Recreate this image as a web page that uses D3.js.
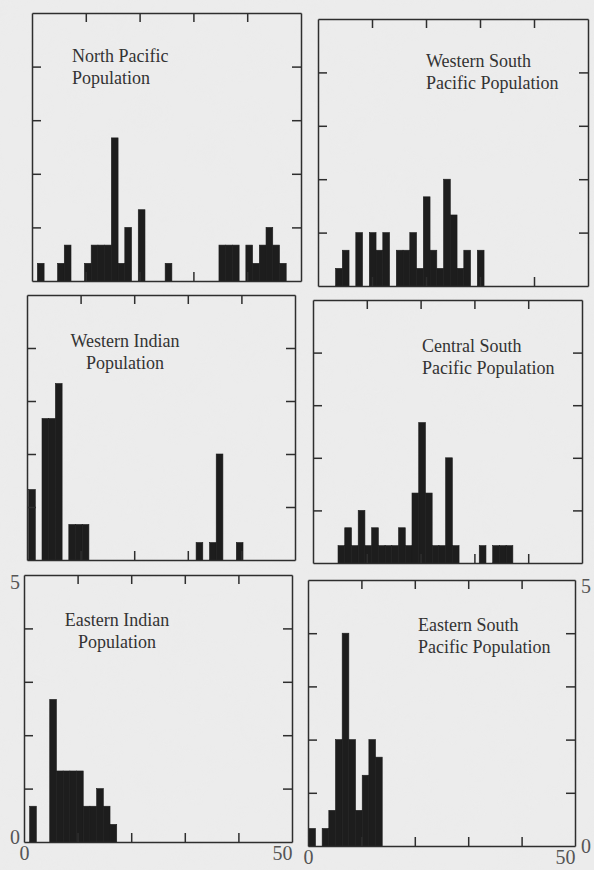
<!DOCTYPE html>
<html>
<head>
<meta charset="utf-8">
<script src="https://cdn.jsdelivr.net/npm/d3@7"></script>
<style>
  body { margin: 0; background: #ebebeb; }
  svg { display: block; }
</style>
</head>
<body>
<div id="chart"></div>
<script>
// bar heights, one value per bin (bins are 1.25 wide)
var binWidth = 1.25;
var northPacific = [0.33, 0, 0, 0.33, 0.67, 0, 0, 0.33, 0.67, 0.67, 0.67, 2.67, 0.33, 1, 0, 1.33, 0, 0, 0, 0.33,
    0, 0, 0, 0, 0, 0, 0, 0.67, 0.67, 0.67, 0, 0.67, 0.33, 0.67, 1, 0.67, 0.33];
var westernSouthPacific = [0, 0, 0.33, 0.67, 0, 1, 0, 1, 0.67, 1, 0, 0.67, 0.67, 1, 0.33, 1.67, 0.67, 0.33, 2, 1.33,
    0.33, 0.67, 0, 0.67];
var westernIndian = [1.33, 0, 2.67, 2.67, 3.33, 0, 0.67, 0.67, 0.67, 0, 0, 0, 0, 0, 0, 0, 0, 0, 0, 0,
    0, 0, 0, 0, 0, 0.33, 0, 0.33, 2, 0, 0, 0.33];
var centralSouthPacific = [0, 0, 0, 0.33, 0.67, 0.33, 1, 0.33, 0.67, 0.33, 0.33, 0.33, 0.67, 0.33, 1.33, 2.67, 1.33, 0.33, 0.33, 2,
    0.33, 0, 0, 0, 0.33, 0, 0.33, 0.33, 0.33];
var easternIndian = [0.67, 0, 0, 2.67, 1.33, 1.33, 1.33, 1.33, 0.67, 0.67, 1, 0.67, 0.33];
var easternSouthPacific = [0.33, 0, 0.33, 0.67, 2, 4, 2, 0.67, 1.33, 2, 1.67];

var xTicks = [10, 20, 30, 40];
var yTicks = [1, 2, 3, 4];
var xLabels = [0, 50];
var yLabels = [0, 5];

// frame of each panel on the page (the scan is a little skewed, so they differ)
var panels = [
    { values: northPacific, start: 1.0, title: ["North Pacific", "Population"], x: 32, y: 13, w: 269, h: 268, tx: 40, ty: 49, anchor: "start" },
    { values: westernSouthPacific, start: 0.75, title: ["Western South", "Pacific Population"], x: 318, y: 19, w: 270, h: 267, tx: 108, ty: 48, anchor: "start" },
    { values: westernIndian, start: 0.3, title: ["Western Indian", "Population"], x: 27, y: 295, w: 268, h: 265, tx: 98, ty: 52, anchor: "middle" },
    { values: centralSouthPacific, start: 0.9, title: ["Central South", "Pacific Population"], x: 313, y: 300, w: 269, h: 263, tx: 109, ty: 52, anchor: "start" },
    { values: easternIndian, start: 1.05, title: ["Eastern Indian", "Population"], x: 24, y: 575, w: 268, h: 267, tx: 93, ty: 51, anchor: "middle", left: true, bottom: true },
    { values: easternSouthPacific, start: 0.15, title: ["Eastern South", "Pacific Population"], x: 308, y: 580, w: 267, h: 266, tx: 110, ty: 51, anchor: "start", right: true, bottom: true }
];

var svg = d3.select("#chart")
    .append("svg")
    .attr("width", 594)
    .attr("height", 870);

// scanned paper look
var filter = svg.append("defs").append("filter").attr("id", "paper")
    .attr("x", 0).attr("y", 0).attr("width", "100%").attr("height", "100%");
filter.append("feTurbulence").attr("type", "fractalNoise").attr("baseFrequency", 0.03)
    .attr("numOctaves", 2).attr("seed", 4);
filter.append("feColorMatrix").attr("type", "matrix")
    .attr("values", "0 0 0 0 0.82  0 0 0 0 0.82  0 0 0 0 0.82  0.7 0 0 0 -0.3");

svg.append("rect").attr("width", 594).attr("height", 870).attr("fill", "#ececec");
svg.append("rect").attr("width", 594).attr("height", 870).attr("filter", "url(#paper)").attr("opacity", 0.6);

panels.forEach(function (p) {
    var g = svg.append("g")
        .attr("transform", "translate(" + p.x + "," + p.y + ")");

    var x = d3.scaleLinear().domain([0, 50]).range([0, p.w]);
    var y = d3.scaleLinear().domain([0, 5]).range([p.h, 0]);

    // bars
    var bins = p.values.map(function (v, i) {
        return { x0: p.start + i * binWidth, x1: p.start + (i + 1) * binWidth, v: v };
    }).filter(function (d) { return d.v > 0; });

    g.append("g")
        .selectAll("rect")
        .data(bins)
        .enter()
        .append("rect")
        .attr("x", function (d) { return x(d.x0); })
        .attr("width", function (d) { return x(d.x1) - x(d.x0); })
        .attr("y", function (d) { return y(d.v); })
        .attr("height", function (d) { return y(0) - y(d.v); })
        .attr("fill", "#1d1d1d")
        .attr("stroke", "#1d1d1d")
        .attr("stroke-width", 0.6);

    // frame with inward ticks on all four sides
    var frame = [
        [d3.axisLeft(y).tickValues(yTicks), 0, 0],
        [d3.axisRight(y).tickValues(yTicks), p.w, 0],
        [d3.axisTop(x).tickValues(xTicks), 0, 0],
        [d3.axisBottom(x).tickValues(xTicks), 0, p.h]
    ];
    frame.forEach(function (f) {
        var a = g.append("g")
            .attr("transform", "translate(" + f[1] + "," + f[2] + ")")
            .call(f[0].tickSizeInner(-9).tickSizeOuter(0).tickFormat(""));
        a.selectAll("path, line").attr("stroke", "#2e2e2e").attr("stroke-width", 1.5);
    });

    // panel title
    var t = g.append("text")
        .attr("x", p.tx)
        .attr("y", p.ty)
        .attr("text-anchor", p.anchor)
        .attr("font-family", "Liberation Serif, Times New Roman, serif")
        .attr("font-size", 18)
        .attr("fill", "#333");
    p.title.forEach(function (line, i) {
        t.append("tspan").attr("x", p.tx).attr("dy", i === 0 ? 0 : 21.5).text(line);
    });

    // number labels on the outer edges
    var fmt = d3.format("d");
    function styleLabels(a) {
        a.select(".domain").remove();
        a.attr("font-family", "Liberation Serif, Times New Roman, serif")
            .attr("font-size", 20)
            .style("color", "#555");
    }
    if (p.left) {
        g.append("g")
            .call(d3.axisLeft(y).tickValues(yLabels).tickFormat(fmt).tickSize(0).tickPadding(4))
            .call(styleLabels)
            .selectAll("text")
            .attr("dy", function (d) { return d === 5 ? "0.66em" : "0.05em"; });
    }
    if (p.right) {
        g.append("g")
            .attr("transform", "translate(" + p.w + ",0)")
            .call(d3.axisRight(y).tickValues(yLabels).tickFormat(fmt).tickSize(0).tickPadding(6))
            .call(styleLabels)
            .selectAll("text")
            .attr("dy", function (d) { return d === 5 ? "0.62em" : "0.3em"; });
    }
    if (p.bottom) {
        g.append("g")
            .attr("transform", "translate(0," + p.h + ")")
            .call(d3.axisBottom(x).tickValues(xLabels).tickFormat(fmt).tickSize(0).tickPadding(4))
            .call(styleLabels)
            .selectAll("text")
            .attr("text-anchor", function (d) { return d === 50 ? "end" : "middle"; });
    }
});
</script>
</body>
</html>
